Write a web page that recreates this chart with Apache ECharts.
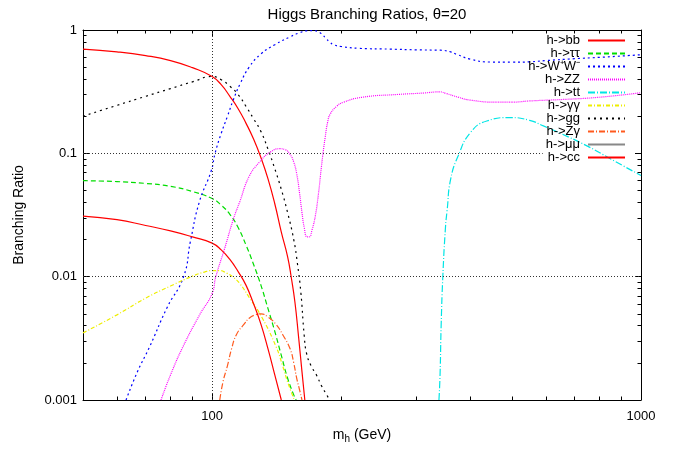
<!DOCTYPE html>
<html>
<head>
<meta charset="utf-8">
<script src="https://cdn.jsdelivr.net/npm/echarts@6/dist/echarts.min.js"></script>
<style>
  html, body { margin: 0; padding: 0; background: #fff; }
  #chart { width: 680px; height: 449px; }
</style>
</head>
<body>
<div id="chart"></div>
<script>
// values: higgs mass (GeV) -> branching ratio
const bbMass = [50, 60, 70, 80, 90, 100, 105, 110, 115, 120, 125, 130, 135, 140, 145, 150, 153, 156, 159, 162, 164.5];
const bbBR = [0.70, 0.665, 0.62, 0.565, 0.495, 0.42, 0.36, 0.29, 0.23, 0.175, 0.13, 0.092, 0.062, 0.039, 0.023, 0.0145, 0.0098, 0.0062, 0.0033, 0.0017, 0.001];

const tauMass = [50, 60, 70, 80, 90, 100, 105, 110, 115, 120, 125, 130, 135, 140, 145, 150, 155, 157];
const tauBR = [0.060, 0.059, 0.057, 0.054, 0.049, 0.043, 0.038, 0.032, 0.025, 0.018, 0.0125, 0.0085, 0.0055, 0.0036, 0.0023, 0.0015, 0.0011, 0.001];

const wwMass = [63, 67, 71.5, 78.5, 85.8, 89, 93.4, 99.5, 101.6, 105, 108.6, 112, 116.4, 122, 130, 140, 152, 160, 166, 172, 176, 180, 184, 188, 192, 200, 220, 260, 300, 340, 360, 372, 400, 444, 500, 550, 600, 700, 800, 1000];
const wwBR = [0.001, 0.0017, 0.0027, 0.0056, 0.01, 0.0193, 0.0405, 0.072, 0.1, 0.145, 0.2, 0.27, 0.37, 0.5, 0.64, 0.76, 0.88, 0.95, 0.985, 0.99, 0.975, 0.93, 0.86, 0.80, 0.76, 0.735, 0.71, 0.70, 0.69, 0.686, 0.665, 0.634, 0.58, 0.55, 0.548, 0.552, 0.565, 0.585, 0.60, 0.63];

const zzMass = [76, 80, 85.5, 93.5, 100, 102, 107, 112, 116, 122, 129, 137, 144, 148, 152, 155, 157.5, 160, 162, 164, 166.5, 168.5, 171, 174, 177, 180, 183.5, 186, 188.5, 195, 202, 224, 270, 310, 340, 351, 375, 400, 460, 500, 550, 667, 800, 1000];
const zzBR = [0.001, 0.0016, 0.0027, 0.0049, 0.0073, 0.01, 0.017, 0.029, 0.0405, 0.065, 0.085, 0.103, 0.109, 0.107, 0.098, 0.085, 0.068, 0.047, 0.033, 0.025, 0.021, 0.021, 0.024, 0.031, 0.047, 0.08, 0.135, 0.18, 0.208, 0.24, 0.259, 0.285, 0.30, 0.308, 0.315, 0.306, 0.285, 0.27, 0.26, 0.26, 0.266, 0.274, 0.285, 0.31];

const ttMass = [338, 340, 342, 345, 350, 353, 360, 375, 400, 437, 496, 550, 592, 650, 748, 850, 1000];
const ttBR = [0.001, 0.0016, 0.004, 0.0098, 0.025, 0.034, 0.062, 0.096, 0.147, 0.183, 0.195, 0.185, 0.167, 0.145, 0.115, 0.09, 0.066];

const gamMass = [50, 60, 70, 80, 90, 96, 100, 104, 108, 112, 116, 122, 131, 141, 146, 150, 155.5];
const gamBR = [0.0035, 0.0049, 0.0067, 0.0084, 0.0101, 0.0109, 0.0112, 0.0112, 0.0107, 0.0099, 0.0088, 0.0068, 0.0046, 0.0027, 0.0019, 0.0014, 0.001];

const ggMass = [50, 60, 70, 80, 90, 100, 105, 110, 115, 120, 125, 130, 135, 140, 145, 150, 155, 158, 161, 164, 166, 170, 175, 180, 185, 188];
const ggBR = [0.20, 0.245, 0.29, 0.335, 0.38, 0.42, 0.395, 0.35, 0.30, 0.24, 0.19, 0.15, 0.108, 0.075, 0.051, 0.033, 0.02, 0.013, 0.0075, 0.0033, 0.0024, 0.0019, 0.0016, 0.0013, 0.0011, 0.001];

const zgMass = [104.2, 106, 108.6, 111, 114, 118.6, 122, 126, 130, 135, 141, 146, 152, 155, 157.5, 160, 162];
const zgBR = [0.001, 0.0014, 0.0019, 0.0026, 0.0034, 0.0041, 0.0046, 0.0049, 0.005, 0.0047, 0.0041, 0.0034, 0.0026, 0.002, 0.0015, 0.0012, 0.001];

// mu mu stays below the plotted range
const muMass = [50, 100, 150];
const muBR = [0.00025, 0.00017, 0.00002];

const ccMass = [50, 60, 70, 80, 90, 100, 105, 110, 115, 120, 125, 130, 135, 140, 145];
const ccBR = [0.031, 0.029, 0.026, 0.0235, 0.021, 0.0187, 0.0165, 0.0138, 0.011, 0.0085, 0.006, 0.0041, 0.0026, 0.0016, 0.001];

// tick positions
const massMajor = [100, 1000];
const massMinor = [60, 70, 80, 90, 200, 300, 400, 500, 600, 700, 800, 900];
const brMajor = [0.001, 0.01, 0.1, 1];
const brMinor = [0.002, 0.003, 0.004, 0.005, 0.006, 0.007, 0.008, 0.009,
  0.02, 0.03, 0.04, 0.05, 0.06, 0.07, 0.08, 0.09,
  0.2, 0.3, 0.4, 0.5, 0.6, 0.7, 0.8, 0.9];

const font = "'Liberation Sans', Arial, sans-serif";

function pairs(m, b) {
  return m.map((x, i) => [x, b[i]]);
}

function makeAxis(pos, ticks, len, main) {
  const horizontal = pos === 'top' || pos === 'bottom';
  return {
    type: 'log',
    logBase: 10,
    position: pos,
    min: horizontal ? 50 : 0.001,
    max: horizontal ? 1000 : 1,
    axisLine: { show: main, onZero: false, lineStyle: { color: '#000', width: 1 } },
    axisTick: { show: true, inside: true, length: len, customValues: ticks, lineStyle: { color: '#000', width: 1 } },
    axisLabel: { show: false },
    splitLine: { show: false },
    minorTick: { show: false },
    minorSplitLine: { show: false },
  };
}

const chart = echarts.init(document.getElementById('chart'));

const xBottom = makeAxis('bottom', massMajor, 6, true);
xBottom.axisLabel = {
  show: true, customValues: massMajor, margin: 10,
  color: '#000', fontSize: 13, fontFamily: font,
  formatter: (v) => String(Math.round(v)),
};
xBottom.name = '{a|m}{b|h}{a| (GeV)}';
xBottom.nameLocation = 'middle';
xBottom.nameGap = 26;
xBottom.nameTextStyle = {
  color: '#000', fontFamily: font,
  rich: {
    a: { fontSize: 14, fontFamily: font, color: '#000', lineHeight: 18, verticalAlign: 'middle' },
    b: { fontSize: 10, fontFamily: font, color: '#000', lineHeight: 18, verticalAlign: 'bottom' },
  },
};

const yLeft = makeAxis('left', brMajor, 6, true);
yLeft.axisLabel = {
  show: true, customValues: brMajor, margin: 6,
  color: '#000', fontSize: 13, fontFamily: font,
  formatter: (v) => String(+v.toPrecision(3)),
};
yLeft.name = 'Branching Ratio';
yLeft.nameLocation = 'middle';
yLeft.nameGap = 57;
yLeft.nameTextStyle = { color: '#000', fontSize: 14, fontFamily: font };

function lineSeries(name, m, b, color, type) {
  return {
    name: name,
    type: 'line',
    xAxisIndex: 0,
    yAxisIndex: 0,
    data: pairs(m, b),
    symbol: 'none',
    showSymbol: false,
    smooth: 0.5,
    clip: true,
    lineStyle: { color: color, width: 1.2, type: type },
    itemStyle: { color: color },
  };
}

const series = [
  lineSeries('h->bb', bbMass, bbBR, '#ff0000', 'solid'),
  lineSeries('h->ττ', tauMass, tauBR, '#00dd00', [5, 3]),
  lineSeries('h->W⁺W⁻', wwMass, wwBR, '#0000ff', [2, 3]),
  lineSeries('h->ZZ', zzMass, zzBR, '#ff00ff', [1, 1]),
  lineSeries('h->tt', ttMass, ttBR, '#00e5e5', [7, 2, 1, 2]),
  lineSeries('h->γγ', gamMass, gamBR, '#eeee00', [4, 2, 1, 2]),
  lineSeries('h->gg', ggMass, ggBR, '#000000', [2, 4]),
  lineSeries('h->Zγ', zgMass, zgBR, '#ff5a1e', [6, 2, 1, 2]),
  lineSeries('h->μμ', muMass, muBR, '#888888', 'solid'),
  lineSeries('h->cc', ccMass, ccBR, '#ff0000', 'solid'),
];

// dotted grid lines at the labelled inner ticks (the 0.1 one stops at the key)
series[0].markLine = {
  silent: true,
  symbol: ['none', 'none'],
  label: { show: false },
  lineStyle: { color: '#333', width: 1, type: [1, 2] },
  data: [
    { xAxis: 100 },
    { yAxis: 0.01 },
    [{ coord: [50, 0.1] }, { coord: [590, 0.1] }],
  ],
};

chart.setOption({
  animation: false,
  backgroundColor: '#fff',
  title: {
    text: 'Higgs Branching Ratios, θ=20',
    left: 362,
    top: 2,
    textAlign: 'center',
    textStyle: { color: '#000', fontSize: 15, fontWeight: 'normal', fontFamily: font },
  },
  grid: { left: 83, right: 39, top: 30, bottom: 46, containLabel: false },
  legend: {
    orient: 'vertical',
    right: 54,
    top: 34,
    align: 'right',
    itemWidth: 37,
    itemHeight: 8,
    itemGap: 0,
    padding: 0,
    itemStyle: { opacity: 0 },
    textStyle: { color: '#000', fontSize: 13, lineHeight: 13, fontFamily: font, padding: [0, 3, 0, 0] },
    data: series.map((s) => s.name),
  },
  xAxis: [
    xBottom,
    makeAxis('bottom', massMinor, 3.5, false),
    makeAxis('top', massMajor, 6, true),
    makeAxis('top', massMinor, 3.5, false),
  ],
  yAxis: [
    yLeft,
    makeAxis('left', brMinor, 3.5, false),
    makeAxis('right', brMajor, 6, true),
    makeAxis('right', brMinor, 3.5, false),
  ],
  series: series,
});
</script>
</body>
</html>
